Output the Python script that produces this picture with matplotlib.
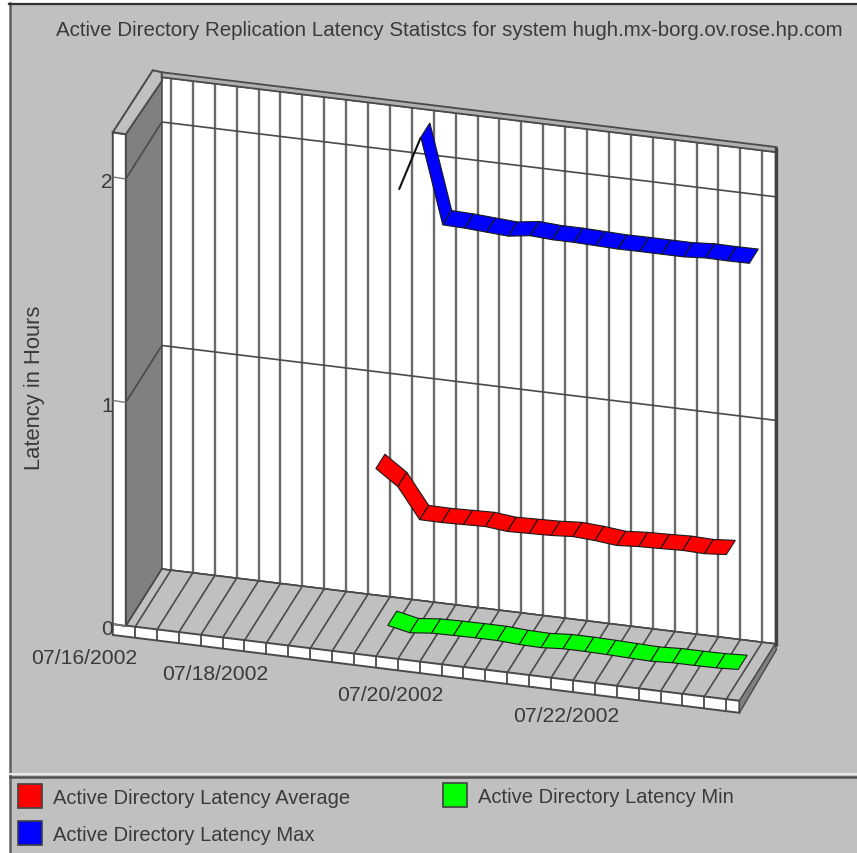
import matplotlib
matplotlib.use('Agg')
import matplotlib.pyplot as plt
from matplotlib.patches import Polygon, Rectangle

plt.rcParams['font.family'] = ['Liberation Sans', 'DejaVu Sans']

title = 'Active Directory Replication Latency Statistcs for system hugh.mx-borg.ov.rose.hp.com'
ylabel = 'Latency in Hours'
date_labels = ['07/16/2002', '07/18/2002', '07/20/2002', '07/22/2002']
date_slots = [-2, 4, 12, 20]
y_ticks = [0, 1, 2]

slots = list(range(11, 28))
lat_avg = [0.841, 0.772, 0.636, 0.635, 0.638, 0.641, 0.631, 0.634, 0.637,
           0.644, 0.638, 0.628, 0.635, 0.638, 0.642, 0.639, 0.647]
lat_min = [0.055, 0.034, 0.044, 0.046, 0.047, 0.047, 0.041, 0.039, 0.046,
           0.046, 0.044, 0.041, 0.038, 0.043, 0.043, 0.044, 0.049]
lat_max = [1.925, 2.172, 1.792, 1.789, 1.783, 1.777, 1.791, 1.785, 1.785,
           1.782, 1.779, 1.780, 1.780, 1.780, 1.787, 1.786, 1.787]

BG = '#c0c0c0'
GRID = '#4a4a4a'
TXT = '#3a3a3a'
YMAX = 2.2

fig = plt.figure(figsize=(8.57, 8.54), dpi=100, facecolor='white')
ax = fig.add_axes([0, 0, 1, 1])
ax.set_xlim(0, 857)
ax.set_ylim(854, 0)
ax.axis('off')
ax.add_patch(Rectangle((10, 5), 847, 849, fc=BG, ec='none', zorder=0))


# oblique projection: slot index, latency, depth (0 front .. 1 back wall)
def proj(k, v=0.0, d=0.0):
    x = 135 + 21.9 * k + 36 * d
    y = 628.1 + 2.67 * k - 223.5 * v - 57 * d
    return x, y


def line(p, q, color=GRID, lw=1.2, z=3):
    ax.plot([p[0], q[0]], [p[1], q[1]], color=color, lw=lw, zorder=z,
            solid_capstyle='butt')


def quad(pts, fc, ec=GRID, lw=1.0, z=2):
    ax.add_patch(Polygon(pts, closed=True, fc=fc, ec=ec, lw=lw, zorder=z))


L, R = -0.42, 27.6

# back wall, side wall, floor
quad([proj(L, 0, 1), proj(R, 0, 1), proj(R, YMAX, 1), proj(L, YMAX, 1)], 'white', z=1)
quad([proj(L, 0, 0), proj(L, 0, 1), proj(L, YMAX, 1), proj(L, YMAX, 0)], '#808080', z=2)
quad([proj(L, 0, 0), proj(R, 0, 0), proj(R, 0, 1), proj(L, 0, 1)], BG, z=2)

# front slab of the floor and left edge of the wall
drop = 11
p0, p1 = proj(L), proj(R)
quad([(p0[0] - 13, p0[1] - 2), p1, (p1[0], p1[1] + drop + 1), (p0[0] - 13, p0[1] + 9)],
     'white', lw=1.4, z=2)
t0 = proj(L, YMAX)
quad([(t0[0] - 13, t0[1] - 2), t0, p0, (p0[0] - 13, p0[1] - 2)], 'white', lw=1.4, z=2)
t1 = proj(L, YMAX, 1)
quad([(t0[0] - 13, t0[1] - 2), (t1[0] - 9, t1[1] - 7), (t1[0], t1[1] - 5),
      (t1[0], t1[1] + 4), t0], BG, lw=1.4, z=3)

# wall top bevel and right side of the floor
t2 = proj(R, YMAX, 1)
quad([(t1[0], t1[1] - 5), (t2[0] + 1, t2[1] - 5), t2, t1], '#b0b0b0', lw=1.3, z=3)
b2 = proj(R, 0, 1)
line((t2[0] + 1, t2[1] - 5), (b2[0] + 1, b2[1] + 2), color='#404040', lw=2.4, z=4)
quad([p1, b2, (b2[0] + 1, b2[1] + 6), (p1[0], p1[1] + drop + 1)], '#808080', z=3)

# slot lines
for k in range(28):
    line(proj(k, 0, 1), proj(k, YMAX, 1), color='#6a6a6a', lw=1.7, z=2)
    line(proj(k, 0, 0), proj(k, 0, 1), color=GRID, lw=1.2, z=3)
    a = proj(k)
    line(a, (a[0], a[1] + drop), color=GRID, lw=1.3, z=3)

# latency lines
for v in y_ticks:
    line(proj(L, v, 0), proj(L, v, 1), lw=1.2, z=3)
    line(proj(L, v, 1), proj(R, v, 1), lw=1.2, z=3)
    a = proj(L, v, 0)
    line((a[0] - 13, a[1] - 2), a, color='#777777', lw=1.0, z=3)
    ax.text(a[0] - 13, a[1] + 3, str(v), ha='right', va='center', fontsize=15,
            color=TXT, zorder=5)

# series ribbons, one depth band each
for vals, color, d0, d1 in [(lat_max, '#0000ff', 0.64, 0.89),
                            (lat_avg, '#ff0000', 0.00, 0.25),
                            (lat_min, '#00ff00', 0.33, 0.58)]:
    for i in range(len(slots) - 1):
        k, k2 = slots[i], slots[i + 1]
        a, b = proj(k, vals[i], d0), proj(k2, vals[i + 1], d0)
        c = proj(k, vals[i], d1)
        # a face climbing steeper than the depth axis is seen from behind: only its edge shows
        cross = (b[0] - a[0]) * (c[1] - a[1]) - (b[1] - a[1]) * (c[0] - a[0])
        if cross > 0:
            line(a, b, color='#101010', lw=1.5, z=6)
            continue
        quad([proj(k, vals[i], d1), proj(k2, vals[i + 1], d1), b, a],
             color, ec='#1a1a1a', lw=0.8, z=6)

# dates
for lab, k in zip(date_labels, date_slots):
    x, y = proj(k)
    ax.text(x - 7, y + 35.5, lab, ha='center', va='center', fontsize=15.2, color=TXT, zorder=5)

ax.text(35, 388, ylabel, rotation=90, ha='center', va='center', fontsize=15.8, color=TXT)
ax.text(449, 30, title, ha='center', va='center', fontsize=14.8, color=TXT)

# frame and legend strip
ax.plot([10, 10], [4, 854], color='#606060', lw=1.8, zorder=7)
ax.plot([9, 857], [5, 5], color='#303030', lw=1.6, zorder=7)
ax.plot([10, 857], [775, 775], color='#e8e8e8', lw=1.5, zorder=7)
ax.plot([10, 857], [778, 778], color='#505050', lw=1.8, zorder=7)
for x, y, c, lab in [(18, 785, '#ff0000', 'Active Directory Latency Average'),
                     (18, 822, '#0000ff', 'Active Directory Latency Max'),
                     (443, 784, '#00ff00', 'Active Directory Latency Min')]:
    ax.add_patch(Rectangle((x, y), 24, 24, fc=c, ec='#404040', lw=1.2, zorder=7))
    ax.text(x + 35, y + 14, lab, ha='left', va='center', fontsize=14.5, color=TXT, zorder=7)

fig.savefig('out.png', dpi=100, facecolor='white')
